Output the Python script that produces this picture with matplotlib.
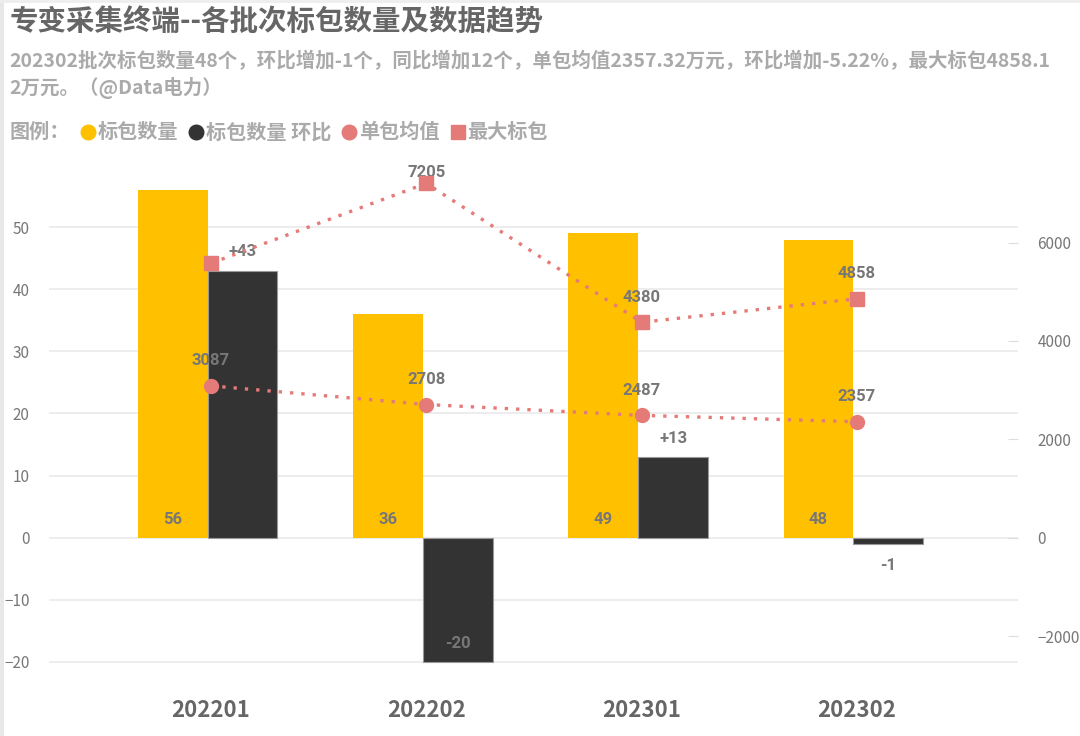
import matplotlib
matplotlib.use("Agg")
import matplotlib.pyplot as plt
import numpy as np

plt.rcParams['font.family'] = ['Noto Sans CJK SC', 'DejaVu Sans']

categories = ['202201', '202202', '202301', '202302']
bag_count = [56, 36, 49, 48]
bag_mom = [43, -20, 13, -1]
avg_value = [3087, 2708, 2487, 2357]
max_bag = [5580, 7205, 4380, 4858]

YELLOW = '#FFC000'
DARK = '#333333'
PINK = '#E57B78'
LABEL = '#777777'

fig = plt.figure(figsize=(10.8, 7.36), dpi=100)
fig.patch.set_facecolor('white')

# faint frame on left/top like the source screenshot
fig.add_artist(plt.Line2D([0.002, 0.002], [0, 1], color='#e8e8e8', lw=3, transform=fig.transFigure))
fig.add_artist(plt.Line2D([0, 1], [0.998, 0.998], color='#eeeeee', lw=2, transform=fig.transFigure))

fig.text(0.009, 0.970, '专变采集终端--各批次标包数量及数据趋势', fontsize=20.5, fontweight='bold',
         color='#666666', va='center')
fig.text(0.009, 0.917, '202302批次标包数量48个，环比增加-1个，同比增加12个，单包均值2357.32万元，环比增加-5.22%，最大标包4858.1',
         fontsize=14, fontweight='bold', color='#aaaaaa', va='center')
fig.text(0.009, 0.880, '2万元。（@Data电力）', fontsize=14, fontweight='bold', color='#aaaaaa', va='center')

# legend row
ly = 0.821
fig.text(0.009, ly, '图例：', fontsize=14.5, fontweight='bold', color='#aaaaaa', va='center')
items = [('o', YELLOW, '标包数量', 0.0815), ('o', DARK, '标包数量 环比', 0.1815),
         ('o', PINK, '单包均值', 0.323), ('s', PINK, '最大标包', 0.424)]
for mk, col, txt, xx in items:
    fig.add_artist(plt.Line2D([xx], [ly], marker=mk, color=col, markersize=10.5 if mk == 'o' else 9.5,
                              lw=0, transform=fig.transFigure))
    fig.text(xx + 0.009, ly, txt, fontsize=14.5, fontweight='bold', color='#aaaaaa', va='center')

ax = fig.add_axes([0.0454, 0.0897, 0.8972, 0.6861])
x = np.arange(len(categories))
w = 0.325

ax.bar(x - w / 2 - 0.016, bag_count, w, color=YELLOW, zorder=2)
ax.bar(x + w / 2 - 0.016, bag_mom, w, color=DARK, edgecolor='#999999', linewidth=0.8, zorder=2)

for i in range(len(x)):
    ax.text(x[i] - w / 2 - 0.016, 3, str(bag_count[i]), ha='center', va='center',
            fontsize=12, fontweight='bold', color=LABEL, family='Roboto', zorder=5)
    v = bag_mom[i]
    s = '+%d' % v if v > 0 else str(v)
    if v > 0:
        yy = v + 3
    elif v < -5:
        yy = v + 3
    else:
        yy = v - 3.5
    ax.text(x[i] + w / 2 - 0.016, yy, s, ha='center', va='center',
            fontsize=12, fontweight='bold', color=LABEL, family='Roboto', zorder=5)

ax.set_xlim(-0.752, 3.748)
ylo, yhi = -21.3, 60
ax.set_ylim(ylo, yhi)
ax.set_yticks([-20, -10, 0, 10, 20, 30, 40, 50])
ax.grid(axis='y', color='#eaeaea', lw=1.2, zorder=0)
ax.set_axisbelow(True)
for sp in ax.spines.values():
    sp.set_visible(False)
ax.tick_params(axis='y', length=0, labelsize=11, labelcolor=LABEL, pad=14)
ax.set_xticks(x)
ax.set_xticklabels(categories, fontsize=16, fontweight='bold', color='#666666')
ax.tick_params(axis='x', length=0, pad=21)

ax2 = ax.twinx()
ratio = 126.3
ax2.set_ylim(ylo * ratio, yhi * ratio)
ax2.set_yticks([-2000, 0, 2000, 4000, 6000])
for sp in ax2.spines.values():
    sp.set_visible(False)
ax2.tick_params(axis='y', direction='in', length=7, color='#dddddd', labelsize=11,
                labelcolor=LABEL, pad=14)

ax2.plot(x, avg_value, color=PINK, lw=2.4, linestyle=(0, (1, 2.4)), marker='o', markersize=10, zorder=4)
ax2.plot(x, max_bag, color=PINK, lw=2.4, linestyle=(0, (1, 2.4)), marker='s', markersize=9.5, zorder=4)

for i in range(len(x)):
    ax2.annotate(str(avg_value[i]), (x[i], avg_value[i]), xytext=(0, 18), textcoords='offset points',
                 ha='center', va='center', fontsize=12, fontweight='bold', color=LABEL, family='Roboto')
    if i > 0:
        off = 8 if max_bag[i] > 7000 else 18
        ax2.annotate(str(max_bag[i]), (x[i], max_bag[i]), xytext=(0, off), textcoords='offset points',
                     ha='center', va='center', fontsize=12, fontweight='bold', color=LABEL, family='Roboto')

fig.savefig('out.png', dpi=100)
